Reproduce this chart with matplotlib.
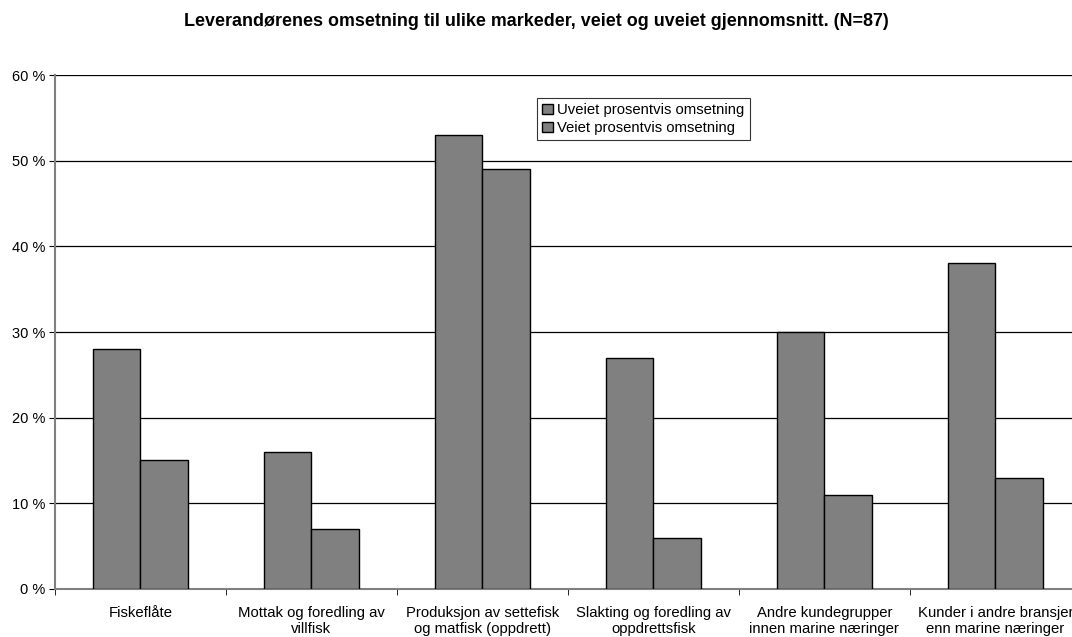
import numpy as np
import matplotlib.pyplot as plt

plt.rcParams['font.family'] = ['Liberation Sans', 'DejaVu Sans']

categories = ['Fiskeflåte', 'Mottak og foredling av\nvillfisk',
              'Produksjon av settefisk\nog matfisk (oppdrett)',
              'Slakting og foredling av\noppdrettsfisk',
              'Andre kundegrupper\ninnen marine næringer',
              'Kunder i andre bransjer\nenn marine næringer']
uveiet = [28, 16, 53, 27, 30, 38]
veiet = [15, 7, 49, 6, 11, 13]
yticks = [0, 10, 20, 30, 40, 50, 60]

fig = plt.figure(figsize=(10.72, 6.37), dpi=100)
ax = fig.add_axes([0.0513, 0.0754, 0.957, 0.8068])

x = np.arange(len(categories))
w = 0.28
ax.bar(x - w / 2, uveiet, w, color='#808080', edgecolor='black', linewidth=1,
       label='Uveiet prosentvis omsetning', zorder=3)
ax.bar(x + w / 2, veiet, w, color='#808080', edgecolor='black', linewidth=1,
       label='Veiet prosentvis omsetning', zorder=3)

ax.set_xlim(-0.5, len(categories) - 0.5)
ax.set_ylim(0, 60)
ax.set_yticks(yticks)
ax.set_yticklabels([f'{t} %' for t in yticks], fontsize=10.5)
ax.yaxis.grid(True, color='black', linewidth=0.9, zorder=0)
ax.tick_params(axis='y', length=4, color='black', pad=3)

ax.set_xticks(x)
ax.set_xticklabels(categories, fontsize=10.7, linespacing=1.25)
ax.set_xticks(np.arange(len(categories) + 1) - 0.5, minor=True)
ax.tick_params(axis='x', which='major', length=0, pad=12)
ax.tick_params(axis='x', which='minor', length=4, color='black')

for s in ['top', 'right']:
    ax.spines[s].set_visible(False)
ax.spines['left'].set_color('#808080')
ax.spines['left'].set_linewidth(1.5)
ax.spines['bottom'].set_color('#808080')
ax.spines['bottom'].set_linewidth(1.5)

leg = ax.legend(loc='upper left', bbox_to_anchor=(0.47, 0.955), fontsize=10.7,
                frameon=True, fancybox=False, edgecolor='black',
                handlelength=0.7, handleheight=0.7, handletextpad=0.3,
                borderpad=0.35, labelspacing=0.25, borderaxespad=0)
leg.get_frame().set_linewidth(0.8)

fig.suptitle('Leverandørenes omsetning til ulike markeder, veiet og uveiet gjennomsnitt. (N=87)',
             fontsize=12.9, fontweight='bold', y=0.966, va='center')

fig.savefig('out.png', dpi=100)
